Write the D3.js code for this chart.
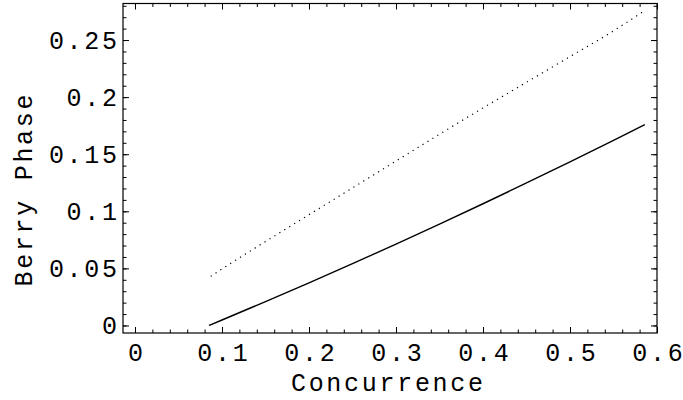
<!DOCTYPE html>
<html>
<head>
<meta charset="utf-8">
<script src="https://cdn.jsdelivr.net/npm/d3@7"></script>
<style>
  body { margin: 0; background: #fff; }
  text { font-family: "Liberation Mono", "DejaVu Sans Mono", monospace; fill: #000; letter-spacing: 2.7px; }
</style>
</head>
<body>
<div id="chart"></div>
<script>
// data
const solidX = [0.085, 0.1, 0.15, 0.2, 0.25, 0.3, 0.35, 0.4, 0.45, 0.5, 0.55, 0.586];
const solidY = [0, 0.0048, 0.0209, 0.0373, 0.0541, 0.0713, 0.0888, 0.1066, 0.1248, 0.1433, 0.1621, 0.1759];
const dotX = [0.087, 0.1, 0.15, 0.2, 0.25, 0.3, 0.35, 0.4, 0.45, 0.5, 0.55, 0.586];
const dotY = [0.043, 0.0495, 0.0735, 0.097, 0.1205, 0.144, 0.1675, 0.1905, 0.213, 0.2355, 0.258, 0.2759];

const xTicks = [0, 0.1, 0.2, 0.3, 0.4, 0.5, 0.6];
const xLabels = ["0", "0.1", "0.2", "0.3", "0.4", "0.5", "0.6"];
const yTicks = [0, 0.05, 0.1, 0.15, 0.2, 0.25];
const yLabels = ["0", "0.05", "0.1", "0.15", "0.2", "0.25"];
const xMinor = d3.range(0, 0.601, 0.02);
const yMinor = d3.range(0, 0.2801, 0.01);

const width = 683, height = 400;
const margin = {top: 3.5, right: 26, bottom: 67, left: 123};
const w = width - margin.left - margin.right;
const h = height - margin.top - margin.bottom;
const ls = 2.7; // letter spacing, trailing gap is compensated below

let svg = d3.select("#chart")
    .append("svg")
    .attr("width", width)
    .attr("height", height)
    .append("g")
    .attr("transform", `translate(${margin.left}, ${margin.top})`);

let x = d3.scaleLinear().domain([-0.0138, 0.6]).range([0, w]);
let y = d3.scaleLinear().domain([-0.0066, 0.282]).range([h, 0]);

// frame axes: ticks point inward on all four sides
function tickAxis(axis, values, size, labels) {
    let a = axis.tickValues(values).tickSize(size);
    if (labels) a.tickFormat((d, i) => labels[i]);
    else a.tickFormat("");
    return a;
}

function addAxis(a, transform, fontSize) {
    let g = svg.append("g").attr("transform", transform).call(a);
    g.select(".domain").remove();
    g.selectAll(".tick line").attr("stroke", "#000").attr("stroke-width", 1);
    g.selectAll("text").style("font-size", fontSize + "px");
    return g;
}

// bottom
addAxis(tickAxis(d3.axisBottom(x), xMinor, -3.5), `translate(0,${h})`);
let bx = addAxis(tickAxis(d3.axisBottom(x), xTicks, -6, xLabels).tickPadding(10), `translate(0,${h})`, 25);
bx.selectAll("text").attr("dx", ls / 2);
// top
addAxis(tickAxis(d3.axisTop(x), xMinor, -3.5), "translate(0,0)");
addAxis(tickAxis(d3.axisTop(x), xTicks, -6), "translate(0,0)");
// left
addAxis(tickAxis(d3.axisLeft(y), yMinor, -3.5), "translate(0,0)");
let ly = addAxis(tickAxis(d3.axisLeft(y), yTicks, -6, yLabels).tickPadding(6), "translate(0,0)", 25);
ly.selectAll("text").attr("dx", ls);
// right
addAxis(tickAxis(d3.axisRight(y), yMinor, -3.5), `translate(${w},0)`);
addAxis(tickAxis(d3.axisRight(y), yTicks, -6), `translate(${w},0)`);

svg.append("rect")
    .attr("x", 0).attr("y", 0)
    .attr("width", w).attr("height", h)
    .attr("fill", "none")
    .attr("stroke", "#000")
    .attr("stroke-width", 1.2);

let line = d3.line()
    .x(d => x(d[0]))
    .y(d => y(d[1]))
    .curve(d3.curveMonotoneX);

svg.append("path")
    .datum(solidX.map((v, i) => [v, solidY[i]]))
    .attr("d", line)
    .attr("fill", "none")
    .attr("stroke", "#000")
    .attr("stroke-width", 1.4);

svg.append("path")
    .datum(dotX.map((v, i) => [v, dotY[i]]))
    .attr("d", line)
    .attr("fill", "none")
    .attr("stroke", "#000")
    .attr("stroke-width", 1.2)
    .attr("stroke-dasharray", "1.2,4.6");

// axis titles
svg.append("text")
    .attr("x", 264 + ls / 2)
    .attr("y", h + 58)
    .style("text-anchor", "middle")
    .style("font-size", "25px")
    .text("Concurrence");

svg.append("text")
    .attr("transform", `translate(-91, ${187 - ls / 2}) rotate(-90)`)
    .style("text-anchor", "middle")
    .style("font-size", "25px")
    .text("Berry Phase");
</script>
</body>
</html>
